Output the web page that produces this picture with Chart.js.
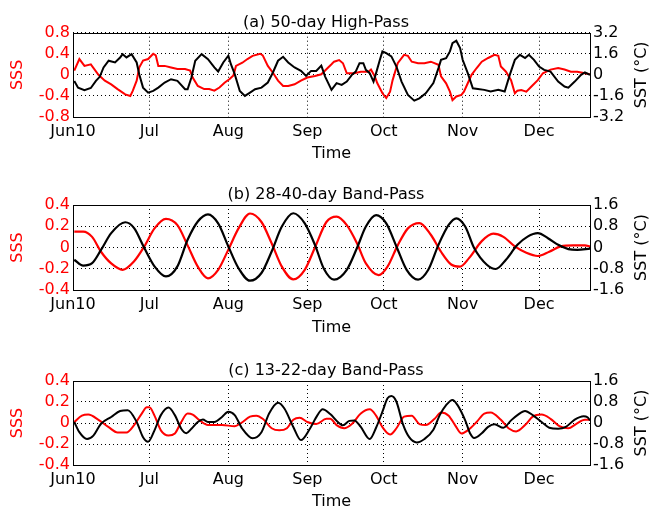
<!DOCTYPE html>
<html>
<head>
<meta charset="utf-8">
<script src="https://cdn.jsdelivr.net/npm/chart.js@4"></script>
<style>
body { margin: 0; background: #fff; overflow: hidden; }
canvas { position: absolute; left: 0; }
</style>
</head>
<body>
<canvas id="graphe_a" width="652" height="170" style="top:0px"></canvas>
<canvas id="graphe_b" width="652" height="170" style="top:170px"></canvas>
<canvas id="graphe_c" width="652" height="171" style="top:340px"></canvas>
<script>
// Time axis: days since 1 June 2010
var V_monthDays = [0, 30, 61, 92, 122, 153, 183];
var V_monthLabels = ['Jun10', 'Jul', 'Aug', 'Sep', 'Oct', 'Nov', 'Dec'];
var I_lastDay = 203;

var V_sssTicks_a = [-0.8, -0.4, 0, 0.4, 0.8];
var V_sstTicks_a = [-3.2, -1.6, 0, 1.6, 3.2];
var V_sssTicks_bc = [-0.4, -0.2, 0, 0.2, 0.4];
var V_sstTicks_bc = [-1.6, -0.8, 0, 0.8, 1.6];

// (a) 50-day high-pass
var V_sssDays_a = [0.5, 2.5, 4.5, 7, 10, 12.5, 15, 17.5, 20.5, 22.5, 23.5, 25, 26, 27.5, 29.5, 31.5, 32.5, 33.5, 36, 38.5, 41, 44, 46, 47, 49, 51.5, 53.5, 55.5, 57.5, 59.5, 61.5, 63, 64, 66.5, 68.5, 70.5, 73.5, 74.5, 76.5, 78.5, 80.5, 82.5, 84.5, 87, 89.5, 92, 95, 97.5, 100, 101.5, 102.5, 104.5, 106, 107.5, 110.5, 113, 116, 117, 118.5, 119.5, 121.5, 123, 124.5, 125.5, 127.5, 130, 131.5, 133, 135.5, 138, 140.5, 143.5, 144.5, 146.5, 148, 149, 150.5, 152.5, 153.5, 155, 156.5, 158.5, 160.5, 163, 165.5, 167, 168, 170, 172, 173.5, 174.5, 176, 178, 180, 182.5, 184.5, 187.5, 190.5, 193, 195.5, 198, 201, 203];
var V_sss_a = [0.08, 0.3, 0.17, 0.2, 0.0, -0.11, -0.18, -0.27, -0.37, -0.4, -0.3, -0.11, 0.14, 0.27, 0.3, 0.4, 0.37, 0.17, 0.17, 0.14, 0.11, 0.11, 0.08, -0.05, -0.21, -0.27, -0.27, -0.3, -0.24, -0.15, -0.08, -0.01, 0.17, 0.23, 0.3, 0.36, 0.4, 0.37, 0.17, 0.04, -0.11, -0.21, -0.21, -0.18, -0.11, -0.05, -0.02, 0.01, 0.13, 0.2, 0.25, 0.28, 0.22, 0.03, 0.03, 0.06, 0.06, 0.1, -0.03, -0.16, -0.35, -0.44, -0.32, -0.1, 0.22, 0.38, 0.36, 0.25, 0.22, 0.22, 0.25, 0.19, -0.03, -0.16, -0.32, -0.48, -0.41, -0.38, -0.32, -0.16, 0, 0.13, 0.25, 0.32, 0.38, 0.36, 0.16, 0.06, -0.1, -0.35, -0.3, -0.29, -0.32, -0.22, -0.1, 0.03, 0.1, 0.13, 0.1, 0.06, 0.06, 0.03, 0.01];
var V_sstDays_a = [0.5, 2, 4.5, 7, 9, 10.5, 12, 14, 16.5, 18.5, 19.5, 21, 23, 25, 26, 27.5, 29.5, 31.5, 33.5, 36, 38.5, 41, 44, 45, 46.5, 48, 50.5, 53, 55.5, 57, 59, 61, 62, 63.5, 65.5, 67.5, 69.5, 71.5, 74, 76.5, 78.5, 80.5, 82.5, 84.5, 87, 89.5, 91.5, 93.5, 95.5, 97.5, 99, 101.5, 103.5, 105.5, 107.5, 109.5, 111, 112.5, 114, 115, 116.5, 118, 119, 120.5, 121.5, 123, 125, 127, 129, 131.5, 134, 136, 138.5, 141.5, 143.5, 144.5, 146.5, 148, 149, 150.5, 152, 153, 155, 157, 159, 161.5, 164, 167, 169.5, 171.5, 173.5, 175.5, 177.5, 179, 181, 183, 185, 187.5, 190.5, 193, 194.5, 197, 199.5, 201, 203];
var V_sst_a = [-0.46, -0.97, -1.17, -1.0, -0.46, -0.15, 0.56, 1.07, 0.94, 1.32, 1.57, 1.32, 1.57, 0.94, 0.05, -0.97, -1.35, -1.22, -0.97, -0.58, -0.33, -0.46, -1.09, -1.09, -0.2, 1.07, 1.57, 1.19, 0.56, 0.25, 0.94, 1.45, 0.81, 0.05, -1.22, -1.6, -1.35, -1.09, -0.97, -0.58, 0.18, 1.07, 1.37, 0.94, 0.56, 0.3, -0.08, 0.3, 0.3, 0.7, -0.13, -1.14, -0.63, -0.76, -0.51, 0, 0.25, 0.89, 0.89, 0.38, 0.13, -0.51, 0.13, 1.14, 1.78, 1.65, 1.4, 0.63, -0.51, -1.52, -1.96, -1.78, -1.4, -0.63, 0.51, 1.14, 1.27, 1.78, 2.41, 2.59, 2.03, 1.14, 0.13, -1.02, -1.07, -1.14, -1.27, -1.14, -1.27, 0, 1.14, 1.52, 1.27, 1.52, 1.14, 0.63, 0.38, 0.25, -0.51, -0.89, -0.97, -0.51, 0, 0.18, 0];

// (b) 28-40-day band-pass
var V_sssDays_b = [0.5, 4, 7.5, 11, 15, 19.5, 24, 28, 32, 36.5, 41, 45, 49, 53, 57, 61, 65, 69.5, 74, 78, 82, 86.5, 91, 95, 99.5, 103.5, 107.5, 111.5, 115, 120, 123.5, 127.5, 131.5, 136, 140.5, 144.5, 148.5, 152, 155.5, 160.5, 165, 169, 173.5, 178, 182.5, 187, 191.5, 196.5, 201, 203];
var V_sss_b = [0.15, 0.15, 0.1, -0.04, -0.15, -0.21, -0.13, 0.01, 0.18, 0.27, 0.21, 0.02, -0.18, -0.29, -0.21, -0.02, 0.18, 0.32, 0.24, 0.04, -0.18, -0.3, -0.21, 0, 0.24, 0.29, 0.21, 0.04, -0.15, -0.26, -0.18, 0.02, 0.18, 0.23, 0.12, -0.04, -0.16, -0.18, -0.1, 0.06, 0.13, 0.1, 0.01, -0.05, -0.08, -0.04, 0.01, 0.02, 0.02, 0.01];
var V_sstDays_b = [0.5, 4, 7.5, 11, 15, 20.5, 24, 28, 32, 36.5, 41, 45, 49, 53, 57, 61, 65, 69.5, 74, 78, 82, 86.5, 91, 95, 98.5, 102.5, 107.5, 111.5, 115, 119, 123, 127, 131, 135.5, 139.5, 143.5, 147.5, 150.5, 154, 157.5, 162.5, 166, 170, 174.5, 178.5, 182.5, 186.5, 190.5, 194.5, 198, 203];
var V_sst_b = [-0.46, -0.68, -0.59, -0.09, 0.54, 0.95, 0.73, -0.02, -0.71, -1.09, -0.71, 0.29, 0.98, 1.25, 0.91, 0.04, -0.78, -1.25, -0.96, -0.15, 0.79, 1.29, 0.91, 0.1, -0.8, -1.21, -0.84, -0.02, 0.79, 1.22, 0.91, 0.04, -0.84, -1.21, -0.84, 0.1, 0.85, 1.1, 0.79, -0.02, -0.65, -0.81, -0.46, 0.1, 0.41, 0.54, 0.35, 0.1, -0.06, -0.09, -0.04];

// (c) 13-22-day band-pass
var V_sssDays_c = [0.5, 3.5, 6, 10, 14, 17.5, 21, 24, 27, 29, 30, 32, 34.5, 37.5, 40, 42.5, 45, 47, 49.5, 53, 58.5, 63.5, 66, 69.5, 72, 74.5, 78, 81, 84, 86.5, 89, 92, 95.5, 99.5, 101, 103.5, 106.5, 109.5, 113, 116.5, 119, 121.5, 124.5, 127, 130, 133, 136, 138.5, 142, 144.5, 147.5, 150, 152.5, 155, 158.5, 161.5, 164, 168, 171, 174, 177.5, 180.5, 184, 187.5, 191, 194.5, 197.5, 201, 203];
var V_sss_c = [0.01, 0.07, 0.08, 0.03, -0.04, -0.09, -0.09, -0.02, 0.09, 0.15, 0.15, 0.07, -0.07, -0.12, -0.1, 0.01, 0.09, 0.08, 0.03, -0.02, -0.02, -0.03, 0, 0.06, 0.07, 0.04, -0.05, -0.07, -0.05, 0.03, 0.05, 0.01, -0.01, 0.04, 0.04, -0.02, -0.05, -0.01, 0.09, 0.13, 0.07, -0.04, -0.11, -0.05, 0.06, 0.07, -0.01, -0.02, 0.04, 0.1, 0.07, -0.02, -0.1, -0.07, 0.01, 0.09, 0.1, 0.03, -0.05, -0.08, -0.02, 0.06, 0.08, 0.04, -0.03, -0.05, -0.01, 0.03, 0.03];
var V_sstDays_c = [0.5, 2.5, 5.5, 8, 11, 15, 18.5, 21.5, 25, 27.5, 29.5, 32, 34.5, 37.5, 40, 42.5, 44.5, 46.5, 49, 51, 53, 55.5, 58.5, 61, 63.5, 66.5, 70.5, 74, 77, 80.5, 83, 86.5, 89.5, 93, 96, 98, 101, 104, 106, 108.5, 110.5, 113, 116.5, 119, 121.5, 123.5, 125, 127, 129.5, 132, 135, 138, 141.5, 144, 146.5, 149, 151, 154, 156, 157.5, 160.5, 163, 165.5, 169, 172, 174.5, 177.5, 180.5, 184, 187, 190.5, 193.5, 197, 200.5, 202, 203];
var V_sst_c = [0.04, -0.35, -0.61, -0.48, -0.03, 0.23, 0.46, 0.49, 0.04, -0.54, -0.71, -0.28, 0.3, 0.59, 0.3, -0.22, -0.39, -0.22, 0.04, 0.13, 0.04, 0.04, 0.23, 0.43, 0.3, -0.22, -0.58, -0.35, 0.36, 0.77, 0.55, -0.15, -0.65, -0.22, 0.3, 0.52, 0.34, 0.04, -0.09, 0.08, 0.1, -0.15, -0.61, -0.18, 0.43, 0.94, 1.03, 0.81, -0.03, -0.54, -0.74, -0.61, -0.26, 0.3, 0.68, 0.88, 0.68, 0.1, -0.41, -0.57, -0.39, -0.15, -0.05, -0.18, 0.1, 0.3, 0.46, 0.3, 0.04, -0.18, -0.22, -0.15, 0.13, 0.26, 0.22, 0.1];

var S_font = 'DejaVu Sans';
Chart.defaults.font.family = S_font;
Chart.defaults.font.size = 16;
Chart.defaults.color = '#000';

function F_toPoints(V_days, V_vals){
    var V_pts = [];
    for (var I_i = 0; I_i < V_days.length; I_i++){ V_pts.push({x: V_days[I_i], y: V_vals[I_i]}); }
    return V_pts;
}

// box around the plot + right-hand axis label (reads bottom to top)
var O_framePlugin = {
    id: 'frame',
    afterDraw: function(chart){
        var ctx = chart.ctx, a = chart.chartArea;
        ctx.save();
        ctx.strokeStyle = '#000';
        ctx.lineWidth = 1;
        ctx.setLineDash([]);
        ctx.strokeRect(Math.round(a.left) + 0.5, Math.round(a.top) + 0.5, Math.round(a.right - a.left), Math.round(a.bottom - a.top));
        ctx.translate(642, (a.top + a.bottom) / 2);
        ctx.rotate(-Math.PI / 2);
        ctx.font = '16px "' + S_font + '"';
        ctx.fillStyle = '#000';
        ctx.textAlign = 'center';
        ctx.textBaseline = 'middle';
        ctx.fillText('SST (°C)', 0, 0);
        ctx.restore();
    }
};

function F_loadGraphe(O_opt){
    var O_ctx = document.getElementById(O_opt.id).getContext('2d');
    var O_config = {
        type: 'line',
        data: {
            datasets: [
                {
                    label: 'SST',
                    data: F_toPoints(O_opt.sstDays, O_opt.sst),
                    yAxisID: 'ySST',
                    borderColor: '#000',
                    borderWidth: O_opt.lineWidth,
                    pointRadius: 0,
                    tension: O_opt.smooth ? 0.4 : 0,
                    cubicInterpolationMode: O_opt.smooth ? 'monotone' : 'default'
                },
                {
                    label: 'SSS',
                    data: F_toPoints(O_opt.sssDays, O_opt.sss),
                    yAxisID: 'ySSS',
                    borderColor: '#ff0000',
                    borderWidth: O_opt.lineWidth,
                    pointRadius: 0,
                    tension: O_opt.smooth ? 0.4 : 0,
                    cubicInterpolationMode: O_opt.smooth ? 'monotone' : 'default'
                }
            ]
        },
        options: {
            responsive: false,
            animation: false,
            devicePixelRatio: 1,
            layout: { padding: 0 },
            plugins: {
                legend: { display: false },
                tooltip: { enabled: false },
                title: {
                    display: true,
                    text: O_opt.title,
                    color: '#000',
                    font: { size: 16, weight: 'normal' },
                    padding: { top: O_opt.titleTop, bottom: O_opt.titleBottom }
                }
            },
            scales: {
                x: {
                    type: 'linear',
                    position: 'bottom',
                    min: 0,
                    max: I_lastDay,
                    afterBuildTicks: function(s){ s.ticks = V_monthDays.map(function(v){ return {value: v}; }); },
                    afterFit: function(s){ s.height = O_opt.xHeight; },
                    ticks: {
                        autoSkip: false,
                        maxRotation: 0,
                        padding: 5,
                        color: '#000',
                        callback: function(v, i){ return V_monthLabels[i]; }
                    },
                    grid: { color: '#000', lineWidth: 1, drawTicks: false },
                    border: { display: false, dash: [1, 3] },
                    title: { display: true, text: 'Time', color: '#000', padding: { top: 0, bottom: O_opt.timePad } }
                },
                ySSS: {
                    type: 'linear',
                    position: 'left',
                    min: O_opt.sssTicks[0],
                    max: O_opt.sssTicks[O_opt.sssTicks.length - 1],
                    afterBuildTicks: function(s){ s.ticks = O_opt.sssTicks.map(function(v){ return {value: v}; }); },
                    afterFit: function(s){ s.width = 73; },
                    ticks: { autoSkip: false, color: '#ff0000', padding: 3, callback: function(v){ return String(v); } },
                    grid: { color: '#000', lineWidth: 1, drawTicks: false },
                    border: { display: false, dash: [1, 3] },
                    title: { display: true, text: 'SSS', color: '#ff0000', padding: { top: 8, bottom: 0 } }
                },
                ySST: {
                    type: 'linear',
                    position: 'right',
                    min: O_opt.sstTicks[0],
                    max: O_opt.sstTicks[O_opt.sstTicks.length - 1],
                    afterBuildTicks: function(s){ s.ticks = O_opt.sstTicks.map(function(v){ return {value: v}; }); },
                    afterFit: function(s){ s.width = 62; },
                    ticks: { autoSkip: false, color: '#000', padding: 3, callback: function(v){ return String(v); } },
                    grid: { drawOnChartArea: false, drawTicks: false },
                    border: { display: false }
                }
            }
        },
        plugins: [O_framePlugin]
    };
    return new Chart(O_ctx, O_config);
}

F_loadGraphe({
    id: 'graphe_a', title: '(a) 50-day High-Pass',
    sssDays: V_sssDays_a, sss: V_sss_a, sstDays: V_sstDays_a, sst: V_sst_a,
    sssTicks: V_sssTicks_a, sstTicks: V_sstTicks_a,
    titleTop: 13, titleBottom: 0.5, xHeight: 53, timePad: 7, lineWidth: 2, smooth: false
});
F_loadGraphe({
    id: 'graphe_b', title: '(b) 28-40-day Band-Pass',
    sssDays: V_sssDays_b, sss: V_sss_b, sstDays: V_sstDays_b, sst: V_sst_b,
    sssTicks: V_sssTicks_bc, sstTicks: V_sstTicks_bc,
    titleTop: 15.5, titleBottom: 0.3, xHeight: 50, timePad: 2.4, lineWidth: 2.2, smooth: true
});
F_loadGraphe({
    id: 'graphe_c', title: '(c) 13-22-day Band-Pass',
    sssDays: V_sssDays_c, sss: V_sss_c, sstDays: V_sstDays_c, sst: V_sst_c,
    sssTicks: V_sssTicks_bc, sstTicks: V_sstTicks_bc,
    titleTop: 21.5, titleBottom: 0.3, xHeight: 46, timePad: 0, lineWidth: 2, smooth: true
});
</script>
</body>
</html>
